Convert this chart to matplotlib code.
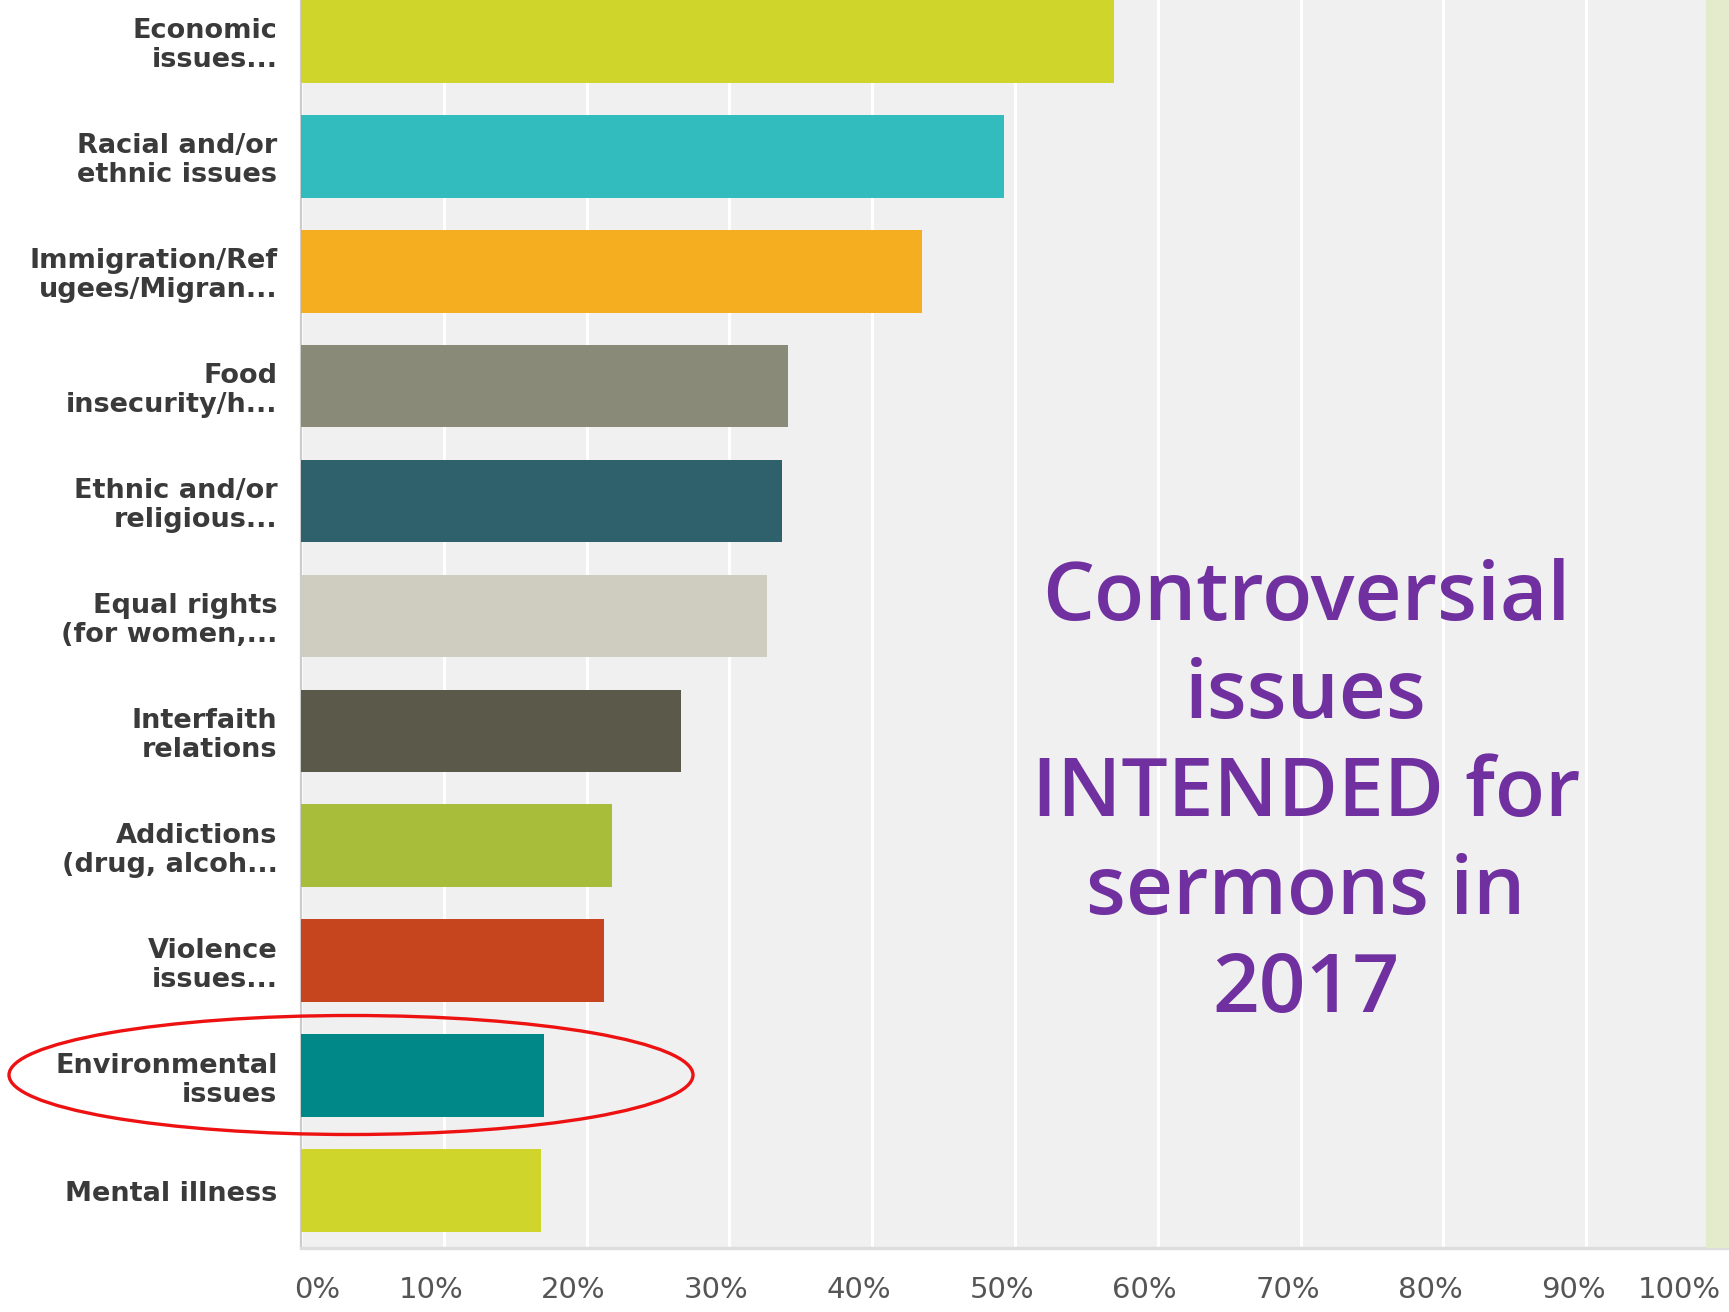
import matplotlib
matplotlib.use("Agg")
import matplotlib.pyplot as plt
from matplotlib.patches import Ellipse, Rectangle
import matplotlib.transforms as mtransforms

categories = [
    "Economic\nissues...",
    "Racial and/or\nethnic issues",
    "Immigration/Ref\nugees/Migran...",
    "Food\ninsecurity/h...",
    "Ethnic and/or\nreligious...",
    "Equal rights\n(for women,...",
    "Interfaith\nrelations",
    "Addictions\n(drug, alcoh...",
    "Violence\nissues...",
    "Environmental\nissues",
    "Mental illness",
]
values = [56.9, 49.2, 43.5, 34.1, 33.7, 32.6, 26.6, 21.8, 21.2, 17.0, 16.8]
colors = ["#cfd52a", "#33bcbe", "#f5ae1f", "#8a8a78", "#2e616c", "#cfcdbf",
          "#5b5a4a", "#a8bd3a", "#c6441e", "#008888", "#cfd52a"]
ticks = [0, 10, 20, 30, 40, 50, 60, 70, 80, 90, 100]
tick_labels = ["0%", "10%", "20%", "30%", "40%", "50%", "60%", "70%", "80%", "90%", "100%"]
overlay = "Controversial\nissues\nINTENDED for\nsermons in\n2017"

W, H, DPI = 1729, 1312, 100
fig = plt.figure(figsize=(W / DPI, H / DPI), dpi=DPI, facecolor="white")
ax = fig.add_axes([301 / W, 64 / H, 1 - 301 / W, 1 - 64 / H])
ax.set_facecolor("#f0f0f0")

y = list(range(len(categories)))
ax.barh(y, values, height=0.72, color=colors, zorder=3)
ax.set_xlim(0, 100)
ax.set_ylim(10.5, -0.36)

ax.set_xticks(ticks)
ax.xaxis.grid(True, color="white", linewidth=2.2, zorder=1)
ax.set_axisbelow(True)
ax.tick_params(axis="x", length=0, labelbottom=False)
ax.tick_params(axis="y", length=0)
ax.set_yticks(y)
ax.set_yticklabels(categories, fontsize=19.5, fontweight="bold", color="#3a3a3a",
                   family="DejaVu Sans", linespacing=1.15)
ax.tick_params(axis="y", pad=17)
for lab in ax.get_yticklabels():
    lab.set_horizontalalignment("right")

for s in ["top", "right"]:
    ax.spines[s].set_visible(False)
ax.spines["left"].set_color("#cccccc")
ax.spines["left"].set_linewidth(1.6)
ax.spines["bottom"].set_color("#dddddd")
ax.spines["bottom"].set_linewidth(2.4)

# tick labels below
tfont = ["Liberation Sans Narrow", "DejaVu Sans Condensed", "DejaVu Sans"]
trans = mtransforms.blended_transform_factory(ax.transData, ax.transAxes)
for t, lab in zip(ticks, tick_labels):
    if t == 0:
        ha, dx = "left", -7
    elif t == 100:
        ha, dx = "right", -8
    else:
        ha, dx = "center", -13
    off = mtransforms.offset_copy(trans, fig=fig, x=dx, y=-42, units="dots")
    ax.text(t, 0, lab, transform=off, ha=ha, va="center", fontsize=21,
            color="#555555", family=tfont)

# green strip at right edge
fig.add_artist(Rectangle((1706 / W, 64 / H), 1 - 1706 / W, 1 - 64 / H,
                         transform=fig.transFigure, facecolor="#e3ebcc",
                         edgecolor="none", zorder=0.5))

# overlay text
fig.text(1306 / W, 1 - 795 / H, overlay, ha="center", va="center",
         fontsize=59, color="#7030a0", family=["Open Sans", "DejaVu Sans"],
         fontweight="semibold", linespacing=1.26)

# red ellipse
fig.add_artist(Ellipse((351 / DPI, (H - 1075) / DPI), 684 / DPI, 119 / DPI,
                       transform=fig.dpi_scale_trans, fill=False,
                       edgecolor="#ee1111", linewidth=2.4, zorder=10))

fig.savefig("out.png", dpi=DPI, facecolor="white")
